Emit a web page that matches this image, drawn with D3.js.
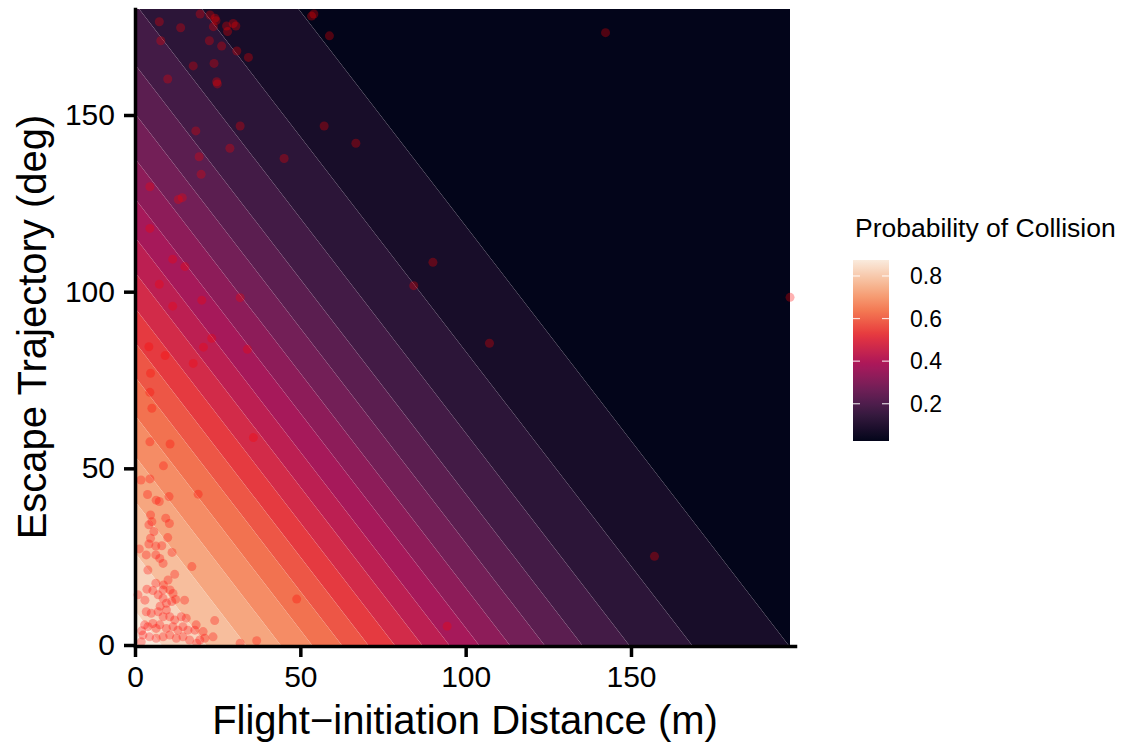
<!DOCTYPE html>
<html>
<head>
<meta charset="utf-8">
<script src="https://cdn.jsdelivr.net/npm/d3@7"></script>
<style>
  body { margin: 0; background: #fff; }
  text { font-family: Arial, "Liberation Sans", sans-serif; fill: #000; }
</style>
</head>
<body>
<svg id="chart" width="1121" height="743"></svg>
<script>
// contour breaks of the fitted surface and where each line meets y = 0 (m)
var breaks = [0.05, 0.1, 0.15, 0.2, 0.25, 0.3, 0.35, 0.4, 0.45, 0.5, 0.55, 0.6, 0.65, 0.7, 0.75, 0.8, 0.85];
var breakX = [197.6, 168.4, 149.4, 135.2, 123.8, 113.3, 104, 95, 86.8, 78.5, 70.5, 62.5, 53.5, 44, 33.5, 21.5, 8];
var slope = 0.823;   // metres of distance per degree along a contour line
var fieldMaxX = 198.1;

// observed escapes
var fidX = [7.35, 13.8, 7.8, 19.7, 22.7, 24.2, 24.5, 23.7, 27.7, 28.0, 29.7, 30.5, 22.5, 26.2, 30.8, 34.3, 17.6, 23.9, 9.9, 24.7,
  24.9, 53.4, 54.1, 58.8, 18.4, 31.8, 57.2, 66.8, 28.7, 45.1, 19.4, 20.0, 4.5, 13.1, 14.3, 4.5, 11.4, 15.1, 7.35, 20.2,
  11.4, 31.8, 23.2, 20.7, 34.0, 4.2, 9.1, 17.6, 4.7, 4.5, 5.1, 142.3, 90.1, 84.3, 107.2, 157.1, 94.4, 198.1, 4.5, 10.6,
  8.6, 1.8, 4.5, 19.1, 35.8, 3.8, 10.3, 6.4, 7.35, 9.3, 4.7, 5.1, 4.2, 10.4, 5.7, 9.9, 4.7, 1.3, 8.1, 48.9,
  31.8, 36.8, 4.2, 6.3, 3.4, 6.3, 7.5, 8.5, 11.2, 12.0, 17.2, 3.6, 5.4, 6.3, 7.0, 8.5, 8.5, 9.5, 12.3, 15.0,
  11.5, 3.4, 4.9, 7.0, 8.5, 9.5, 10.5, 12.0, 14.0, 15.5, 18.5, 18.1, 20.6, 24.1, 23.6, 2.9, 3.9, 5.4, 6.4, 7.5,
  9.5, 11.5, 13.0, 14.5, 16.0, 2.4, 4.4, 6.4, 8.5, 10.5, 12.5, 14.5, 16.5, 19.6, 21.1, 1.9, 18.7, 2.0, 8.6, 10.6,
  11.1, 3.0, 7.6, 0.9, 3.9, 10.0];
var trajY = [176.4, 174.7, 171.0, 178.6, 178.3, 177.4, 176.7, 175.0, 175.2, 173.6, 175.9, 175.2, 171.0, 169.5, 168.1, 166.3, 163.9, 164.6, 160.2, 159.4,
  158.8, 178.0, 178.6, 172.4, 145.5, 146.9, 146.9, 142.0, 140.6, 137.7, 138.2, 133.2, 129.7, 126.1, 126.6, 117.9, 109.2, 107.1, 102.1, 97.6,
  95.9, 98.3, 86.8, 84.3, 83.7, 84.4, 81.9, 79.7, 76.9, 71.5, 67.0, 173.3, 108.3, 101.7, 85.4, 25.1, 5.3, 98.4, 57.5, 56.9,
  50.7, 46.7, 47.0, 42.7, 58.7, 42.6, 42.0, 41.0, 40.6, 35.9, 36.8, 34.9, 34.0, 34.4, 32.1, 30.4, 30.2, 27.2, 28.1, 13.0,
  0.5, 1.2, 28.6, 28.0, 25.5, 25.5, 24.5, 23.1, 26.2, 20.0, 22.2, 15.8, 15.4, 17.5, 14.2, 15.6, 13.2, 11.8, 12.9, 12.7,
  14.6, 9.4, 9.0, 9.4, 8.0, 9.9, 8.0, 7.1, 8.0, 7.6, 5.7, 4.2, 3.8, 6.9, 2.3, 5.7, 5.2, 6.1, 4.7, 5.7,
  4.7, 5.2, 4.2, 5.2, 4.2, 2.8, 2.3, 1.9, 2.3, 2.8, 1.9, 2.3, 1.4, 1.4, 1.9, 0.9, 0.5, 4.0, 17.0, 15.6,
  12.3, 12.7, 11.0, 14.2, 21.2, 18.4];

var xTicks = [0, 50, 100, 150];
var yTicks = [0, 50, 100, 150];
var legendTicks = [0.2, 0.4, 0.6, 0.8];

// rocket palette
var rocketStops = [0, 0.143, 0.2, 0.286, 0.4, 0.429, 0.571, 0.6, 0.714, 0.8, 0.857, 1];
var rocketColors = ["#03051A", "#35193E", "#4C1D4B", "#701F57", "#A11A5B", "#AD1759", "#E13342", "#E83F3F", "#F37651", "#F69C73", "#F6B48F", "#FAEBDD"];

var svg = d3.select("#chart");

var x = d3.scaleLinear().domain([0, 199.6]).range([135, 795]);
var y = d3.scaleLinear().domain([0, 180]).range([645, 9]);

var fillRange = [0.025, 0.875];
var fill = d3.scaleLinear()
  .domain(rocketStops.map(function(t) { return fillRange[0] + t * (fillRange[1] - fillRange[0]); }))
  .range(rocketColors)
  .interpolate(d3.interpolateRgb)
  .clamp(true);

// bands between successive contour lines
var bands = d3.range(0, breaks.length + 1).map(function(i) {
  return {
    mid: i * 0.05 + 0.025,
    zLow: i == breaks.length ? -100 : breakX[i],
    zHigh: i == 0 ? 500 : breakX[i - 1]
  };
});

svg.append("clipPath").attr("id", "field")
  .append("rect")
  .attr("x", x(0)).attr("y", y(180))
  .attr("width", x(fieldMaxX) - x(0)).attr("height", y(0) - y(180));

var line = d3.line().x(function(d) { return x(d[0]); }).y(function(d) { return y(d[1]); });

svg.append("g").attr("clip-path", "url(#field)")
  .selectAll("path")
  .data(bands)
  .join("path")
  .attr("d", function(b) {
    return line([
      [b.zLow + slope * 20, -20], [b.zLow - slope * 220, 220],
      [b.zHigh - slope * 220, 220], [b.zHigh + slope * 20, -20]
    ]) + "Z";
  })
  .attr("fill", function(b) { return fill(b.mid); })
  .attr("stroke", "#fff")
  .attr("stroke-opacity", 0.05)
  .attr("stroke-width", 0.7);

// points
svg.append("g")
  .selectAll("circle")
  .data(d3.range(fidX.length))
  .join("circle")
  .attr("cx", function(i) { return x(fidX[i]); })
  .attr("cy", function(i) { return y(trajY[i]); })
  .attr("r", 4.5)
  .attr("fill", "red")
  .attr("fill-opacity", 0.3);

// axes
var gx = svg.append("g").attr("transform", "translate(0,646)")
  .call(d3.axisBottom(x).tickValues(xTicks).tickFormat(d3.format("d")).tickSize(11).tickSizeOuter(0).tickPadding(9));
var gy = svg.append("g").attr("transform", "translate(135,0)")
  .call(d3.axisLeft(y).tickValues(yTicks).tickFormat(d3.format("d")).tickSize(11).tickSizeOuter(0).tickPadding(9));

[gx, gy].forEach(function(g) {
  g.select(".domain").attr("stroke", "#000").attr("stroke-width", 3.5).attr("stroke-linecap", "square");
  g.selectAll(".tick line").attr("stroke", "#000").attr("stroke-width", 3.5);
  g.selectAll(".tick text").attr("font-size", 30).attr("font-family", null).attr("fill", "#000");
});

svg.append("text")
  .attr("x", 465).attr("y", 734)
  .attr("text-anchor", "middle")
  .attr("font-size", 40)
  .text("Flight\u2212initiation Distance (m)");

svg.append("text")
  .attr("transform", "translate(46," + ((y(0) + y(180)) / 2) + ") rotate(-90)")
  .attr("text-anchor", "middle")
  .attr("font-size", 40)
  .text("Escape Trajectory (deg)");

// legend
var legX = 853, legW = 36;
var leg = d3.scaleLinear().domain(fillRange).range([441, 260]);

var grad = svg.append("defs").append("linearGradient")
  .attr("id", "rocket").attr("x1", 0).attr("x2", 0).attr("y1", 1).attr("y2", 0);
grad.selectAll("stop")
  .data(d3.range(0, 1.0001, 0.02))
  .join("stop")
  .attr("offset", function(t) { return t; })
  .attr("stop-color", function(t) { return fill(fillRange[0] + t * (fillRange[1] - fillRange[0])); });

svg.append("text")
  .attr("x", 855).attr("y", 237)
  .attr("font-size", 26.5)
  .text("Probability of Collision");

svg.append("rect")
  .attr("x", legX).attr("y", leg(fillRange[1]))
  .attr("width", legW).attr("height", leg(fillRange[0]) - leg(fillRange[1]))
  .attr("fill", "url(#rocket)");

var lt = svg.append("g").selectAll("g").data(legendTicks).join("g");
lt.append("line")
  .attr("x1", legX).attr("x2", legX + 7)
  .attr("y1", function(d) { return leg(d); }).attr("y2", function(d) { return leg(d); })
  .attr("stroke", "#fff").attr("stroke-opacity", 0.8).attr("stroke-width", 1.2);
lt.append("line")
  .attr("x1", legX + legW - 7).attr("x2", legX + legW)
  .attr("y1", function(d) { return leg(d); }).attr("y2", function(d) { return leg(d); })
  .attr("stroke", "#fff").attr("stroke-opacity", 0.8).attr("stroke-width", 1.2);
lt.append("text")
  .attr("x", 910).attr("y", function(d) { return leg(d); })
  .attr("dy", "0.36em")
  .attr("font-size", 23)
  .text(function(d) { return d.toFixed(1); });
</script>
</body>
</html>
